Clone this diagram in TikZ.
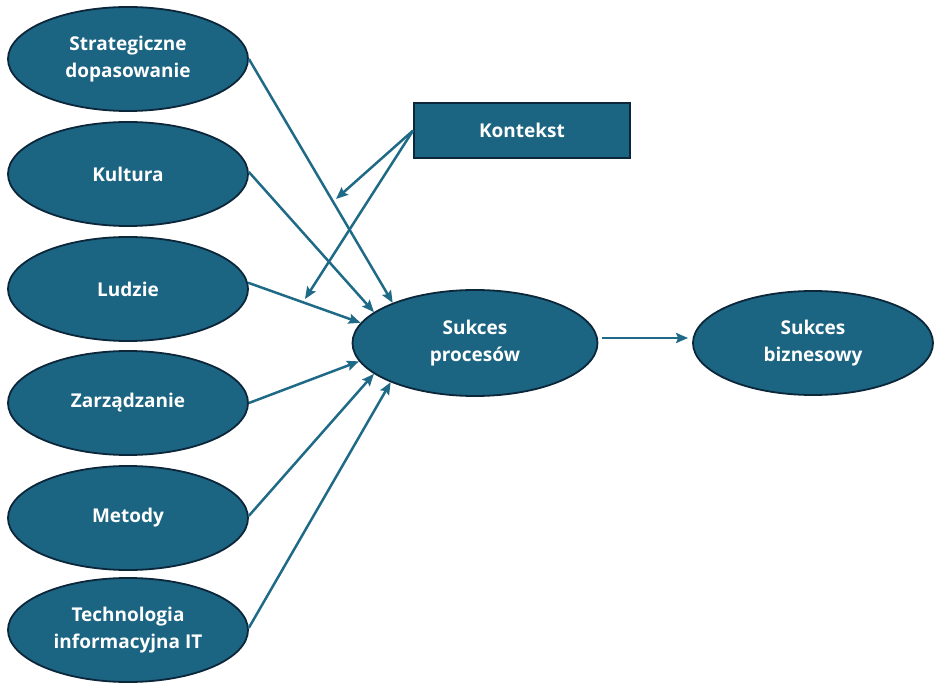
\documentclass[tikz,border=0pt]{standalone}
\usepackage{fontspec}
\setmainfont{Open Sans}
\usetikzlibrary{shapes.geometric,arrows.meta}
\definecolor{teal1}{RGB}{27,100,130}
\definecolor{edge1}{RGB}{12,38,58}
\definecolor{arrc}{RGB}{31,106,134}
\tikzset{
  ell/.style={ellipse,draw=edge1,line width=1.8pt,fill=teal1,text=white,
    minimum width=240pt,minimum height=104pt,inner sep=0pt,align=center,
    font=\bfseries\fontsize{19}{27}\selectfont},
  boxk/.style={rectangle,draw=edge1,line width=1.8pt,fill=teal1,text=white,
    minimum width=216pt,minimum height=55pt,inner sep=0pt,
    font=\bfseries\fontsize{19}{27}\selectfont},
  arr/.style={draw=arrc,line width=2.5pt,-{Stealth[length=12pt,width=10pt,inset=2pt]}}
}
\begin{document}
\begin{tikzpicture}[x=1pt,y=-1pt]
\useasboundingbox (0,0) rectangle (934,684);
\node[ell] (strat) at (128,59) {Strategiczne\\dopasowanie};
\node[ell] (kult) at (128,174) {Kultura};
\node[ell] (ludz) at (128,289) {Ludzie};
\node[ell] (zarz) at (128,403) {Zarządzanie};
\node[ell] (met) at (128,518) {Metody};
\node[ell] (tech) at (128,630) {Technologia\\informacyjna IT};
\node[ell,minimum width=245pt,minimum height=106pt] (sp) at (475,343) {Sukces\\procesów};
\node[ell] (sb) at (813,343) {Sukces\\biznesowy};
\node[boxk] (kon) at (522,130.5) {Kontekst};
\coordinate (k1) at (336,199);
\coordinate (k2) at (305,299);
\draw[arr] (strat.east) -- (sp.154.5);
\draw[arr] (kult.1) -- (sp.163.4);
\draw[arr] (ludz.3) -- (sp.170.3);
\draw[arr] (zarz.0.5) -- (sp.189.7);
\draw[arr] (met.1.5) -- (sp.197.6);
\draw[arr] (tech.1.5) -- (sp.205.5);
\draw[arr] (kon.west) -- (k1);
\draw[arr] (kon.west) -- (k2);
\draw[arr] ([xshift=4pt,yshift=5pt]sp.east) -- ([xshift=-4pt,yshift=5pt]sb.west);
\end{tikzpicture}
\end{document}
